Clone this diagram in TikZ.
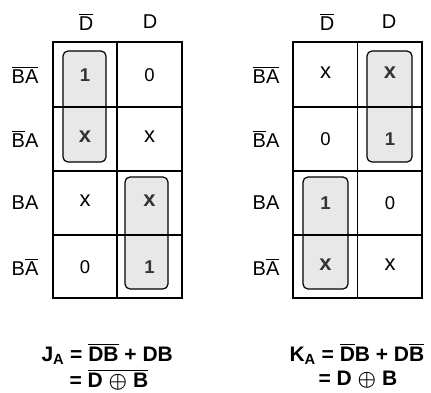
\documentclass[tikz,border=0pt]{standalone}
\usepackage{amsmath}
\usepackage{fontspec}
\setmainfont{Liberation Sans}
\usepackage{tikz}
\usetikzlibrary{positioning}

% bar over a letter, set in the text font
\newcommand{\nb}[1]{$\overline{\mbox{#1}}$}

\tikzset{
  grid line/.style={line width=1.3pt},
  loop box/.style={draw, fill=gray!18, rounded corners=5pt, line width=1.2pt},
  cell/.style={font=\fontsize{18.5}{20}\selectfont},
  xcell/.style={font=\fontsize{22}{24}\selectfont},
  in loop/.style={font=\fontsize{18.5}{20}\selectfont\bfseries, text=black!80},
  xin loop/.style={font=\fontsize{22}{24}\selectfont\bfseries, text=black!80},
  side/.style={font=\fontsize{20}{22}\selectfont},
  eqn/.style={font=\fontsize{21}{24}\selectfont\bfseries\boldmath, anchor=west},
}

\begin{document}
\begin{tikzpicture}[x=1pt, y=-1pt]
    \useasboundingbox (0,0) rectangle (431,392);

    % Groupings (drawn under the grid)
    \draw[loop box] (63,51) rectangle (106,162);
    \draw[loop box] (125,177) rectangle (168,289);
    \draw[loop box] (367,51) rectangle (412,162);
    \draw[loop box] (303,177) rectangle (348,289);

    % Map for J_A
    \draw[grid line] (53,42) rectangle (182,298);
    \draw[grid line] (117,42) -- (117,298);
    \draw[grid line] (53,107) -- (182,107);
    \draw[grid line] (53,171) -- (182,171);
    \draw[grid line] (53,235) -- (182,235);

    % Map for K_A
    \draw[grid line] (293,42) rectangle (422,298);
    \draw[grid line] (357.5,42) -- (357.5,298);
    \draw[grid line] (293,107) -- (422,107);
    \draw[grid line] (293,171) -- (422,171);
    \draw[grid line] (293,235) -- (422,235);

    % Column labels
    \node[side] (jdn) at (86,22) {\nb{D}};
    \node[side] (jd) at (150,22) {D};
    \node[side] (kdn) at (327,22) {\nb{D}};
    \node[side] (kd) at (389,22) {D};

    % Row labels
    \node[side] (jr1) at (25,75) {\nb{B}\nb{A}};
    \node[side] (jr2) at (25,139) {\nb{B}A};
    \node[side] (jr3) at (25,203) {BA};
    \node[side] (jr4) at (25,267) {B\nb{A}};
    \node[side] (kr1) at (266,75) {\nb{B}\nb{A}};
    \node[side] (kr2) at (266,139) {\nb{B}A};
    \node[side] (kr3) at (266,203) {BA};
    \node[side] (kr4) at (266,267) {B\nb{A}};

    % Cells of J_A
    \node[in loop] (j11) at (85,75) {1};
    \node[cell] (j12) at (149.5,75) {0};
    \node[xin loop] (j21) at (85,137) {x};
    \node[xcell] (j22) at (149.5,137) {x};
    \node[xcell] (j31) at (85,201) {x};
    \node[xin loop] (j32) at (149.5,201) {x};
    \node[cell] (j41) at (85,267) {0};
    \node[in loop] (j42) at (149.5,267) {1};

    % Cells of K_A
    \node[xcell] (k11) at (325.5,73) {x};
    \node[xin loop] (k12) at (390,73) {x};
    \node[cell] (k21) at (325.5,139) {0};
    \node[in loop] (k22) at (390,139) {1};
    \node[in loop] (k31) at (325.5,203) {1};
    \node[cell] (k32) at (390,203) {0};
    \node[xin loop] (k41) at (325.5,265) {x};
    \node[xcell] (k42) at (390,265) {x};

    % Equations
    \node[eqn] (ja) at (38,354) {J\textsubscript{A} = \nb{D}\nb{B} + DB};
    \node[eqn] (jb) at (66,380) {= $\overline{\mbox{D $\oplus$ B}}$};
    \node[eqn] (ka) at (286,354) {K\textsubscript{A} = \nb{D}B + D\nb{B}};
    \node[eqn] (kb) at (315,380) {= D $\oplus$ B};
\end{tikzpicture}
\end{document}
